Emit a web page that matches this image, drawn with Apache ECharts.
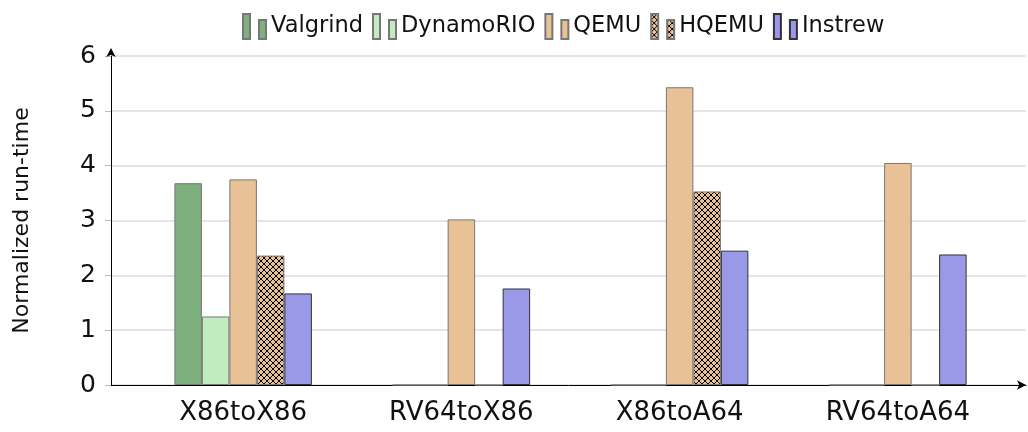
<!DOCTYPE html>
<html><head><meta charset="utf-8">
<script src="https://cdn.jsdelivr.net/npm/echarts@6/dist/echarts.min.js"></script>
<style>html,body{margin:0;padding:0;background:#fff}#c{width:1028px;height:432px}</style>
</head><body><div id="c"></div>
<script>
const categories = ['X86toX86', 'RV64toX86', 'X86toA64', 'RV64toA64'];
const valgrind  = [3.68, 0, 0, 0];
const dynamorio = [1.25, 0, 0, 0];
const qemu      = [3.75, 3.02, 5.43, 4.05];
const hqemu     = [2.36, 0, 3.53, 0];
const instrew   = [1.67, 1.76, 2.45, 2.38];
const yTicks = [0, 1, 2, 3, 4, 5, 6];

const FONT = 'DejaVu Sans';
function hatch() {
  const c = document.createElement('canvas');
  c.width = 6; c.height = 6;
  const g = c.getContext('2d');
  g.fillStyle = '#e8c196'; g.fillRect(0, 0, 6, 6);
  g.strokeStyle = '#000'; g.lineWidth = 1;
  g.beginPath();
  g.moveTo(0, 0); g.lineTo(6, 6);
  g.moveTo(6, 0); g.lineTo(0, 6);
  g.stroke();
  return c;
}
const icon = 'path://M0,0h7v25h-7z M16,6h7v19h-7z';
function s(name, data, color, border) {
  return {
    name, type: 'bar', xAxisIndex: 1, yAxisIndex: 1, data,
    barWidth: 27.5, barGap: '0%',
    itemStyle: { color, borderColor: border || '#777', borderWidth: 1 },
    emphasis: { disabled: true }
  };
}
const chart = echarts.init(document.getElementById('c'));
chart.setOption({
  animation: false,
  textStyle: { fontFamily: FONT },
  legend: {
    top: 8, left: 237, itemWidth: 23, itemHeight: 25, itemGap: 9,
    icon: icon,
    textStyle: { fontFamily: FONT, fontSize: 22.5, color: '#111', padding: [4, 0, 0, 0] },
    data: ['Valgrind', 'DynamoRIO', 'QEMU', 'HQEMU', 'Instrew']
  },
  grid: [
    { left: 111, right: 2, top: 56, bottom: 47 },
    { left: 134, right: 21, top: 56, bottom: 47 }
  ],
  xAxis: [
    { type: 'value', gridIndex: 0, min: 0, max: 1, splitLine: { show: false },
      axisLabel: { show: false }, axisTick: { show: false },
      axisLine: { show: true, lineStyle: { color: '#000', width: 1 }, symbol: ['none', 'arrow'], symbolSize: [7, 9] } },
    { type: 'category', gridIndex: 1, data: categories,
      axisLine: { show: false }, axisTick: { show: false },
      axisLabel: { fontFamily: FONT, fontSize: 26, color: '#111', margin: 15 } }
  ],
  yAxis: [
    { type: 'value', gridIndex: 0, min: 0, max: 6, interval: 1,
      name: 'Normalized run-time', nameLocation: 'middle', nameGap: 78,
      nameTextStyle: { fontFamily: FONT, fontSize: 22, color: '#111' },
      axisLine: { show: true, lineStyle: { color: '#000', width: 1 }, symbol: ['none', 'arrow'], symbolSize: [7, 9], symbolOffset: [0, 8] },
      axisTick: { show: true, length: 6, lineStyle: { color: '#bbb' } },
      splitLine: { show: true, lineStyle: { color: '#dcdcdc', width: 1.5 } },
      axisLabel: { fontFamily: FONT, fontSize: 25, color: '#111', margin: 15,
        formatter: v => yTicks.includes(v) ? String(v) : '' } },
    { type: 'value', gridIndex: 1, min: 0, max: 6, interval: 1, show: false }
  ],
  series: [
    s('Valgrind', valgrind, '#7eb07e'),
    s('DynamoRIO', dynamorio, '#c0ecc0'),
    s('QEMU', qemu, '#e8c196'),
    s('HQEMU', hqemu, { image: hatch(), repeat: 'repeat' }),
    s('Instrew', instrew, '#9999e8', '#333')
  ]
});
</script></body></html>
